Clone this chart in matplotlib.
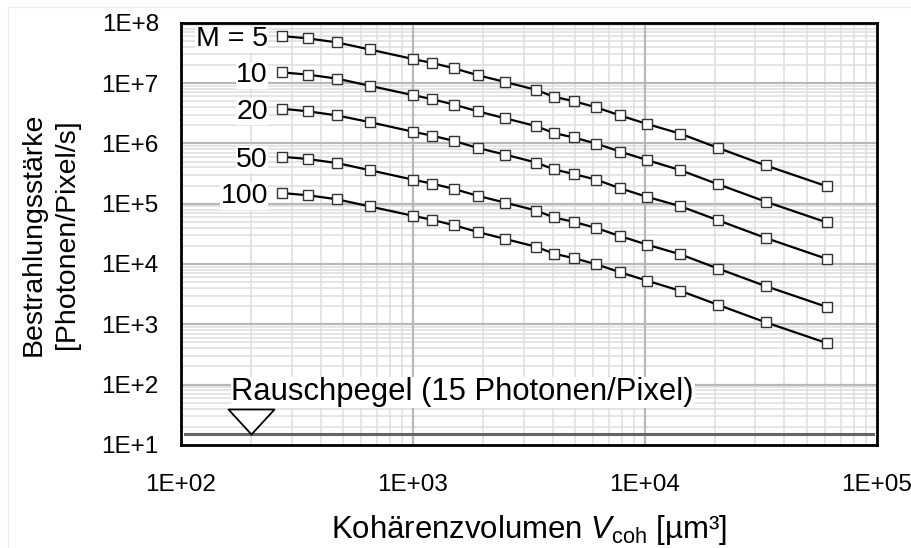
import math

import matplotlib
matplotlib.use("Agg")
import matplotlib.pyplot as plt
from matplotlib.lines import Line2D
from matplotlib.path import Path
from matplotlib.ticker import FuncFormatter, LogLocator, NullFormatter

plt.rcParams["font.family"] = ["Liberation Sans", "DejaVu Sans"]
plt.rcParams["mathtext.fontset"] = "custom"
plt.rcParams["mathtext.rm"] = "Liberation Sans"
plt.rcParams["mathtext.it"] = "Liberation Sans:italic"

# coherence volume (um^3)
v_coh = [272, 352, 472, 650, 1000, 1210, 1500, 1900, 2500, 3400,
         4060, 4940, 6170, 7820, 10200, 14200, 20700, 33200, 60800]

# irradiance in photons/pixel/s for each M
irr_m5 = [6.0e7, 5.5e7, 4.7e7, 3.6e7, 2.5e7, 2.15e7, 1.76e7, 1.35e7, 1.04e7, 7.7e6,
          5.9e6, 5.0e6, 3.95e6, 2.9e6, 2.1e6, 1.45e6, 8.4e5, 4.3e5, 1.95e5]
irr_m10 = [1.5e7, 1.38e7, 1.18e7, 9.0e6, 6.3e6, 5.4e6, 4.4e6, 3.4e6, 2.6e6, 1.93e6,
           1.48e6, 1.25e6, 9.9e5, 7.3e5, 5.3e5, 3.6e5, 2.1e5, 1.08e5, 4.9e4]
irr_m20 = [3.75e6, 3.4e6, 2.9e6, 2.25e6, 1.56e6, 1.34e6, 1.1e6, 8.4e5, 6.5e5, 4.8e5,
           3.7e5, 3.1e5, 2.5e5, 1.8e5, 1.3e5, 9.1e4, 5.3e4, 2.7e4, 1.22e4]
irr_m50 = [6.0e5, 5.5e5, 4.7e5, 3.6e5, 2.5e5, 2.15e5, 1.76e5, 1.35e5, 1.04e5, 7.7e4,
           5.9e4, 5.0e4, 3.95e4, 2.9e4, 2.1e4, 1.45e4, 8.4e3, 4.3e3, 1.95e3]
irr_m100 = [1.5e5, 1.38e5, 1.18e5, 9.0e4, 6.3e4, 5.4e4, 4.4e4, 3.4e4, 2.6e4, 1.93e4,
            1.48e4, 1.25e4, 9.9e3, 7.3e3, 5.3e3, 3.6e3, 2.1e3, 1.08e3, 4.9e2]

series = [irr_m5, irr_m10, irr_m20, irr_m50, irr_m100]
series_labels = ["M = 5", "10", "20", "50", "100"]

noise_level = 15
noise_at = 200
noise_text = "Rauschpegel (15 Photonen/Pixel)"

fig = plt.figure(figsize=(9.12, 5.48), dpi=100)
ax = fig.add_axes([0.1985, 0.188, 0.7628, 0.7706])
ax.set_xscale("log")
ax.set_yscale("log")
ax.set_xlim(1e2, 1e5)
ax.set_ylim(1e1, 1e8)

ax.xaxis.set_major_locator(LogLocator(base=10, numticks=10))
ax.yaxis.set_major_locator(LogLocator(base=10, numticks=12))
ax.xaxis.set_minor_locator(LogLocator(base=10, subs=range(2, 10), numticks=40))
ax.yaxis.set_minor_locator(LogLocator(base=10, subs=range(2, 10), numticks=80))
ax.xaxis.set_minor_formatter(NullFormatter())
ax.yaxis.set_minor_formatter(NullFormatter())
ax.xaxis.set_major_formatter(FuncFormatter(lambda v, _: f"1E+{round(math.log10(v)):02d}"))
ax.yaxis.set_major_formatter(FuncFormatter(lambda v, _: f"1E+{round(math.log10(v))}"))

# light minor grid from the axis, major grid drawn on top of it
ax.set_axisbelow(True)
ax.grid(which="minor", color="#dedede", linewidth=1.1)
for xv in ax.get_xticks():
    if 1e2 < xv < 1e5:
        ax.axvline(xv, color="#b8b8b8", linewidth=1.6, zorder=1)
for yv in ax.get_yticks():
    if 1e1 < yv < 1e8:
        ax.axhline(yv, color="#b8b8b8", linewidth=1.6, zorder=1)

ax.tick_params(which="both", length=0)
ax.tick_params(axis="x", pad=21, labelsize=17.5)
ax.tick_params(axis="y", pad=16, labelsize=17.5)
for sp in ax.spines.values():
    sp.set_linewidth(2.0)
    sp.set_color("black")

for vals, label in zip(series, series_labels):
    ax.plot(v_coh, vals, color="black", linewidth=1.6, marker="s", markersize=7.5,
            markerfacecolor="white", markeredgecolor="#333333", markeredgewidth=1.0,
            zorder=3)
    ax.annotate(label, (v_coh[0], vals[0]), xytext=(-10, 0), textcoords="offset points",
                ha="right", va="center_baseline", fontsize=20.5,
                bbox=dict(facecolor="white", edgecolor="none", pad=0.5), zorder=4)

# noise floor with downward triangle marker (tip sits on the line)
ax.axhline(noise_level, xmin=0.005, xmax=0.995, color="#666666", linewidth=2.2, zorder=2)
tri = Path([(-0.92, 1.0), (0.92, 1.0), (0.0, 0.0), (-0.92, 1.0)],
           [Path.MOVETO, Path.LINETO, Path.LINETO, Path.CLOSEPOLY])
ax.plot([noise_at], [noise_level], marker=tri, markersize=36, markerfacecolor="white",
        markeredgecolor="black", markeredgewidth=1.3, linestyle="none", zorder=4)
ax.annotate(noise_text, (noise_at, noise_level), xytext=(-14, 24.5),
            textcoords="offset points", ha="left", va="baseline", fontsize=22.3,
            bbox=dict(facecolor="white", edgecolor="none", pad=0.5), zorder=4)

ax.set_xlabel("Kohärenzvolumen $V_{\\mathrm{coh}}$ [µm³]", fontsize=22.4, labelpad=12)
ax.set_ylabel("Bestrahlungsstärke\n[Photonen/Pixel/s]", fontsize=20.5, va="center",
              ha="center", multialignment="center", linespacing=1.35)
ax.yaxis.set_label_coords(-0.188, 0.5)

# faint page edge lines
fig.add_artist(Line2D([8 / 912, 8 / 912], [0, 1 - 7 / 548], transform=fig.transFigure,
                      color="#ececec", linewidth=0.8))
fig.add_artist(Line2D([8 / 912, 1], [1 - 7 / 548, 1 - 7 / 548], transform=fig.transFigure,
                      color="#ececec", linewidth=0.8))

fig.savefig("out.png", dpi=100)
